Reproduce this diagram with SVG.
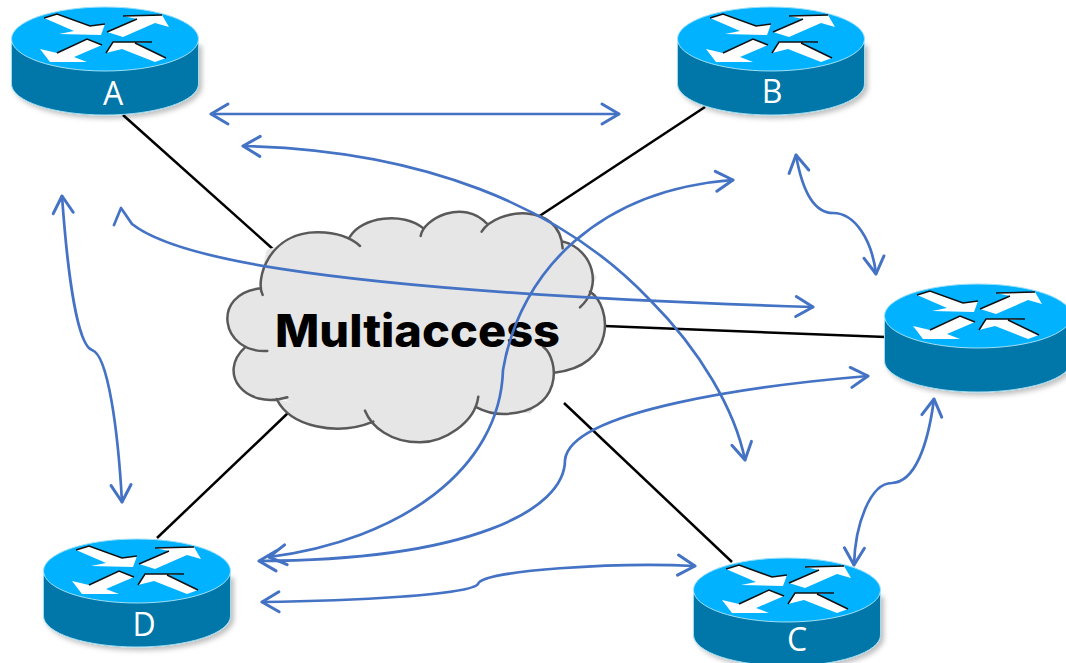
<svg xmlns="http://www.w3.org/2000/svg" xmlns:xlink="http://www.w3.org/1999/xlink" width="1066" height="663" viewBox="0 0 1066 663">
<style>
.lbl{font-family:"Open Sans","Liberation Sans",sans-serif;font-size:32px;fill:#fff;text-anchor:middle}
.blk{stroke:#000;stroke-width:2.5;fill:none}
.blu{stroke:#4472c4;stroke-width:2.7;fill:none;stroke-linejoin:round;stroke-linecap:round}
.both{marker-start:url(#ah);marker-end:url(#ah)}
.end{marker-end:url(#ah)}
.rbody{fill:#0077a8;stroke:#9fdcf0;stroke-width:1}
.rtop{fill:#00b2ff;stroke:#9fe0f5;stroke-width:1}
.rarr{fill:#fff}
.redge{fill:none;stroke:#111;stroke-width:1.5}
.ctxt{font-family:Inter,"Liberation Sans",sans-serif;font-weight:800;font-size:45px;fill:#000}
</style>
<defs>
<marker id="ah" markerUnits="userSpaceOnUse" markerWidth="44" markerHeight="44" refX="22" refY="22" orient="auto-start-reverse" overflow="visible">
<path d="M5,12 L22,22 L5,32" fill="none" stroke="#4472c4" stroke-width="3" stroke-linecap="round" stroke-linejoin="round"/>
</marker>
<filter id="sh" x="-10%" y="-10%" width="125%" height="130%">
<feDropShadow dx="3" dy="3" stdDeviation="2.5" flood-color="#000" flood-opacity="0.25"/>
</filter>
<g id="router">
<path class="rbody" d="M11.5,43 V84 A93.5,31 0 0 0 198.5,84 V43 Z" filter="url(#sh)"/>
<ellipse class="rtop" cx="105" cy="39" rx="93.5" ry="32"/>
<path class="rarr" d="M44,18 L57,14 L90,26 L105,24 L101,35 L59,34 L74,31 Z"/>
<path class="rarr" d="M107,32 L137,19 L123,16 L162,15 L169,27 L155,23 L123,37 Z"/>
<path class="rarr" d="M40,49 L57,53 L87,39 L102,45 L74,57 L87,62 L50,62 Z"/>
<path class="rarr" d="M106,53 L113,42 L152,42 L135,43 L166,58 L155,62 L122,49 Z"/>
<path class="redge" d="M44,18 L57,14 L90,26 L105,24"/>
<path class="redge" d="M107,32 L137,19 M123,16 L162,15"/>
<path class="redge" d="M57,53 L87,39 L102,45"/>
<path class="redge" d="M106,53 L113,42 L152,42 M135,43 L166,58"/>
</g>
</defs>
<g id="links">
<line class="blk" x1="123" y1="115" x2="274" y2="250"/>
<line class="blk" x1="705" y1="107" x2="538" y2="217"/>
<line class="blk" x1="604" y1="326" x2="886" y2="337"/>
<line class="blk" x1="157" y1="538" x2="289" y2="412"/>
<line class="blk" x1="564" y1="403" x2="732" y2="562"/>
</g>
<g id="cloud">
<g transform="translate(210,200) scale(0.3333)">
<path fill="#e6e6e6" d="M158,285 L150,240 L170,150 L320,95 L420,110 L540,55 L632,90 L740,35 L825,70 L930,35 L1050,90 L1060,125 L1160,230 L1140,275 L1188,380 L1033,518 L1035,520 L960,640 L800,622 L700,700 L480,670 L380,660 L200,590 L75,510 L105,440 L48,360 Z"/>
<path fill="#e6e6e6" stroke="#595959" stroke-width="7.5" stroke-linecap="round" d="M158,285 C135,240 175,95 325,97 C380,98 425,115 450,138 M420,110 C455,50 580,35 640,85 M632,108 C640,56 760,-6 832,72 M815,95 C860,24 1050,4 1058,145 M1060,125 C1150,150 1180,260 1110,322 M1140,275 C1208,320 1218,500 1033,518 M1000,440 C1050,480 1060,640 880,642 C840,642 815,630 800,622 M805,590 C795,670 700,727 630,727 C540,727 485,680 465,632 M490,665 C380,710 240,680 200,597 M232,592 C105,630 20,520 105,442 M172,453 C30,460 3,280 152,265"/>
</g>
<text class="ctxt" x="275" y="347" textLength="285" lengthAdjust="spacingAndGlyphs">Multiaccess</text>
</g>
<g id="router-a"><use xlink:href="#router" href="#router"/><text class="lbl" x="113" y="105">A</text></g>
<g id="router-b"><use xlink:href="#router" href="#router" transform="translate(666,0)"/><text class="lbl" x="772" y="103">B</text></g>
<g id="router-d"><use xlink:href="#router" href="#router" transform="translate(32,532)"/><text class="lbl" x="144" y="636">D</text></g>
<g id="router-c"><use xlink:href="#router" href="#router" transform="translate(682,551)"/><text class="lbl" x="797" y="651">C</text></g>
<g id="router-e"><use xlink:href="#router" href="#router" transform="translate(873,277)"/></g>
<g id="connectors">
<path class="blu both" d="M211,114 H619"/>
<path class="blu both" d="M243,146 C420,150 560,205 650,300 C700,350 735,410 745,460"/>
<path class="blu end" d="M114,225 L121,208 L132,224 C165,250 270,290 813,307"/>
<path class="blu both" d="M733,180 C600,190 520,270 503,370 C500,470 400,540 269,557"/>
<path class="blu both" d="M868,376 C760,385 570,410 565,460 C565,510 470,560 259,561"/>
<path class="blu both" d="M262,602 C350,601 470,595 478,584 C482,570 620,562 695,566"/>
<path class="blu both" d="M62,196 C68,280 78,345 92,350 C108,355 118,430 122,502"/>
<path class="blu both" d="M796,155 C803,195 815,213 833,213 C855,213 872,240 876,274"/>
<path class="blu both" d="M934,399 C928,445 915,482 892,483 C870,483 855,525 854,565"/>
</g>
</svg>
